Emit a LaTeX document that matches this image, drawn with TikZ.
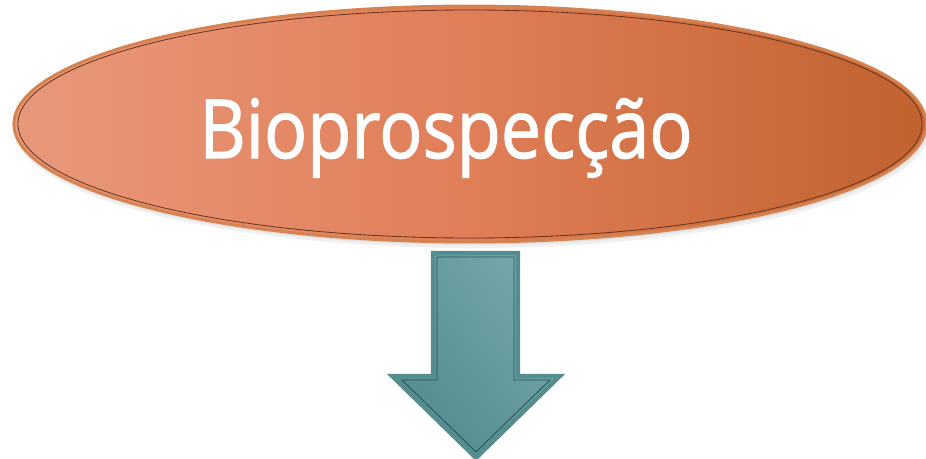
\documentclass[tikz,border=0pt]{standalone}
\usepackage{fontspec}
\setmainfont{Open Sans}
\newfontfamily\titlefont{Open Sans}[FakeBold=1.5]
\usetikzlibrary{shapes.geometric,shadings}
\definecolor{salmonL}{RGB}{233,152,124}
\definecolor{salmonM}{RGB}{224,126,88}
\definecolor{rustR}{RGB}{192,98,46}
\definecolor{rimLight}{RGB}{214,130,80}
\definecolor{rimDark}{RGB}{105,55,30}
\definecolor{tealLight}{RGB}{124,172,176}
\definecolor{tealMid}{RGB}{98,152,156}
\definecolor{tealDark}{RGB}{76,134,138}
\definecolor{tealRim}{RGB}{84,140,144}
\definecolor{tealLine}{RGB}{40,82,84}

\begin{document}
\begin{tikzpicture}[x=0.025cm, y=-0.025cm,
  bubble/.style={ellipse, minimum width=22.8cm, minimum height=5.9cm, inner sep=0pt},
  title/.style={text=white, inner sep=0pt, font=\titlefont\fontsize{58}{64}\selectfont}]
\useasboundingbox (0,0) rectangle (926,459);
% Soft shadow under the ellipse
\fill[black, opacity=0.06] (472,129) ellipse [x radius=458, y radius=119];
\fill[black, opacity=0.06] (471,127) ellipse [x radius=457, y radius=118];
% Ellipse
\node[bubble, left color=salmonL, right color=rustR, middle color=salmonM,
      draw=rimLight, line width=2pt] (bio) at (470,124) {};
\draw[rimDark, line width=0.6pt] (bio.center) ellipse [x radius=452, y radius=114];
\node[title, anchor=base] (biotxt) at (446,158) {\scalebox{0.88}[1]{Bioprospecção}};
% Arrow pointing down
\coordinate (sl) at (433,253);
\coordinate (sr) at (518,253);
\coordinate (tip) at (476,458);
\shade[upper right=tealLight, upper left=tealMid, lower right=tealMid, lower left=tealDark,
       draw=tealRim, line width=3pt, line join=miter]
  (sl) -- (sr) -- (sr |- 0,376) -- (560,376) -- (tip) -- (392,376) -- (sl |- 0,376) -- cycle;
\draw[tealLine, line width=0.6pt]
  (437,257) -- (514,257) -- (514,380) -- (550,380) -- (476,452) -- (402,380) -- (437,380) -- cycle;
\end{tikzpicture}
\end{document}
